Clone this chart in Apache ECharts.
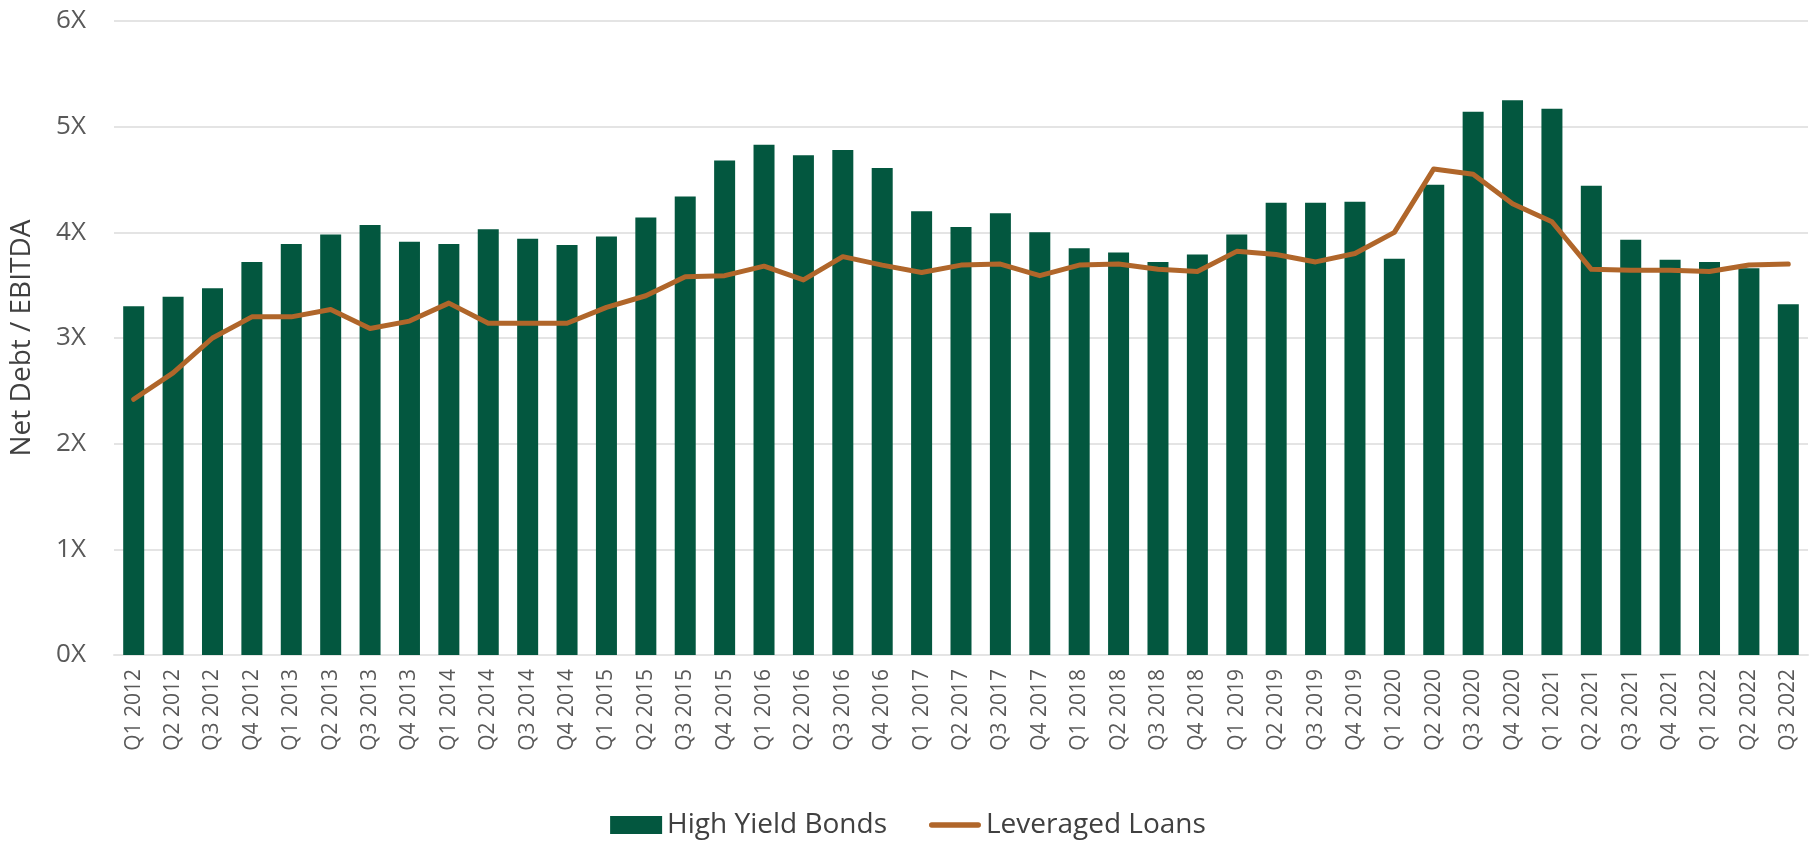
<!DOCTYPE html>
<html>
<head>
<meta charset="utf-8">
<script src="https://cdn.jsdelivr.net/npm/echarts@6/dist/echarts.min.js"></script>
<style>
  html, body { margin: 0; padding: 0; background: #fff; }
  #chart { width: 1816px; height: 842px; }
</style>
</head>
<body>
<div id="chart"></div>
<script>
  // quarters
  var categories = [
    'Q1 2012', 'Q2 2012', 'Q3 2012', 'Q4 2012',
    'Q1 2013', 'Q2 2013', 'Q3 2013', 'Q4 2013',
    'Q1 2014', 'Q2 2014', 'Q3 2014', 'Q4 2014',
    'Q1 2015', 'Q2 2015', 'Q3 2015', 'Q4 2015',
    'Q1 2016', 'Q2 2016', 'Q3 2016', 'Q4 2016',
    'Q1 2017', 'Q2 2017', 'Q3 2017', 'Q4 2017',
    'Q1 2018', 'Q2 2018', 'Q3 2018', 'Q4 2018',
    'Q1 2019', 'Q2 2019', 'Q3 2019', 'Q4 2019',
    'Q1 2020', 'Q2 2020', 'Q3 2020', 'Q4 2020',
    'Q1 2021', 'Q2 2021', 'Q3 2021', 'Q4 2021',
    'Q1 2022', 'Q2 2022', 'Q3 2022'
  ]
  var highYield = [
    3.30, 3.39, 3.47, 3.72,
    3.89, 3.98, 4.07, 3.91,
    3.89, 4.03, 3.94, 3.88,
    3.96, 4.14, 4.34, 4.68,
    4.83, 4.73, 4.78, 4.61,
    4.20, 4.05, 4.18, 4.00,
    3.85, 3.81, 3.72, 3.79,
    3.98, 4.28, 4.28, 4.29,
    3.75, 4.45, 5.14, 5.25,
    5.17, 4.44, 3.93, 3.74,
    3.72, 3.66, 3.32
  ]
  var leveragedLoans = [
    2.42, 2.67, 3.00, 3.20,
    3.20, 3.27, 3.09, 3.16,
    3.33, 3.14, 3.14, 3.14,
    3.29, 3.40, 3.58, 3.59,
    3.68, 3.55, 3.77, 3.69,
    3.62, 3.69, 3.70, 3.59,
    3.69, 3.70, 3.65, 3.63,
    3.82, 3.79, 3.72, 3.80,
    4.00, 4.60, 4.55, 4.27,
    4.10, 3.65, 3.64, 3.64,
    3.63, 3.69, 3.70
  ]
  var yTicks = [0, 1, 2, 3, 4, 5, 6]

  var green = '#03573F'
  var brown = '#B0662A'
  var textColor = '#595959'
  var font = 'Open Sans'

  var chart = echarts.init(document.getElementById('chart'))
  var option = {
    animation: false,
    textStyle: { fontFamily: font },
    grid: { left: 113, right: 8, top: 21, bottom: 187 },
    legend: {
      bottom: -2,
      left: 'center',
      itemGap: 42,
      itemWidth: 52,
      itemHeight: 18,
      symbolKeepAspect: true,
      textStyle: { color: '#404040', fontSize: 28, fontFamily: font },
      data: [
        { name: 'High Yield Bonds', icon: 'rect' },
        {
          name: 'Leveraged Loans',
          // thin bar so the key reads as a line
          icon: 'path://M3,0 L53,0 Q56,0 56,3 Q56,6 53,6 L3,6 Q0,6 0,3 Q0,0 3,0 Z',
          itemStyle: { color: brown },
        },
      ],
    },
    xAxis: {
      type: 'category',
      data: categories,
      axisTick: { show: false },
      axisLine: { lineStyle: { color: '#e4e4e4', width: 2 } },
      axisLabel: {
        rotate: 90,
        interval: 0,
        margin: 14,
        color: textColor,
        fontSize: 21,
        fontFamily: font,
      },
    },
    yAxis: {
      type: 'value',
      min: yTicks[0],
      max: yTicks[yTicks.length - 1],
      interval: 1,
      name: 'Net Debt / EBITDA',
      nameLocation: 'middle',
      nameRotate: 90,
      nameGap: 78,
      nameTextStyle: { color: '#404040', fontSize: 28, fontFamily: font },
      axisLine: { show: false },
      axisTick: { show: false },
      splitLine: { lineStyle: { color: '#e4e4e4', width: 2 } },
      axisLabel: {
        margin: 28,
        color: textColor,
        fontSize: 26,
        fontFamily: font,
        formatter: function (v) {
          return v + 'X'
        },
      },
    },
    series: [
      {
        name: 'High Yield Bonds',
        type: 'bar',
        barWidth: 21,
        itemStyle: { color: green },
        data: highYield,
      },
      {
        name: 'Leveraged Loans',
        type: 'line',
        symbol: 'none',
        lineStyle: { color: brown, width: 5, cap: 'round', join: 'round' },
        itemStyle: { color: brown },
        data: leveragedLoans,
      },
    ],
  }
  chart.setOption(option)
</script>
</body>
</html>
